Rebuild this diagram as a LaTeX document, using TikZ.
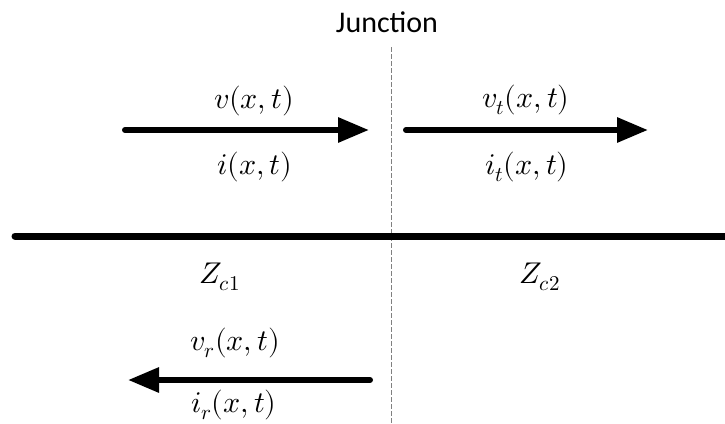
\documentclass[tikz,border=0pt]{standalone}
\usepackage{fontspec}
\usepackage{unicode-math}
\setmainfont{Carlito}
\setmathfont{Latin Modern Math}
\usetikzlibrary{arrows.meta}
\begin{document}
\begin{tikzpicture}[x=1pt,y=-1pt,
  lbl/.style={inner sep=0pt,anchor=base,font=\fontsize{30}{36}\selectfont},
  ttl/.style={inner sep=0pt,anchor=base,font=\fontsize{30}{36}\selectfont},
  wave/.style={line width=6pt,line cap=round,-{Triangle[length=31pt,width=24pt]}},
  bus/.style={line width=7pt,line cap=round},
  junc/.style={gray,line width=1pt,dash pattern=on 5pt off 2pt}]
\useasboundingbox (0,0) rectangle (725,423);
% junction
\node[ttl] (jt) at (387,32) {Junction};
\coordinate (jtop) at (391,47);
\coordinate (jbot) at (391,423);
\draw[junc] (jtop) -- (jbot);
% main line
\coordinate (busL) at (15,236);
\coordinate (busR) at (728,236);
\draw[bus] (busL) -- (busR);
% incident
\coordinate (a1s) at (125,130);
\coordinate (a1e) at (369,130);
\draw[wave] (a1s) -- (a1e);
\node[lbl] (v) at (254,108) {$v(x,t)$};
\node[lbl] (i) at (255,174) {$i(x,t)$};
% transmitted
\coordinate (a2s) at (406,130);
\coordinate (a2e) at (648,130);
\draw[wave] (a2s) -- (a2e);
\node[lbl] (vt) at (526,107) {$v_t(x,t)$};
\node[lbl] (it) at (527,174) {$i_t(x,t)$};
% impedances
\node[lbl] (z1) at (220,283) {$Z_{c1}$};
\node[lbl] (z2) at (540,283) {$Z_{c2}$};
% reflected
\coordinate (a3s) at (370,380);
\coordinate (a3e) at (128,380);
\draw[wave] (a3s) -- (a3e);
\node[lbl] (vr) at (235,350) {$v_r(x,t)$};
\node[lbl] (ir) at (234,412) {$i_r(x,t)$};
\end{tikzpicture}
\end{document}
